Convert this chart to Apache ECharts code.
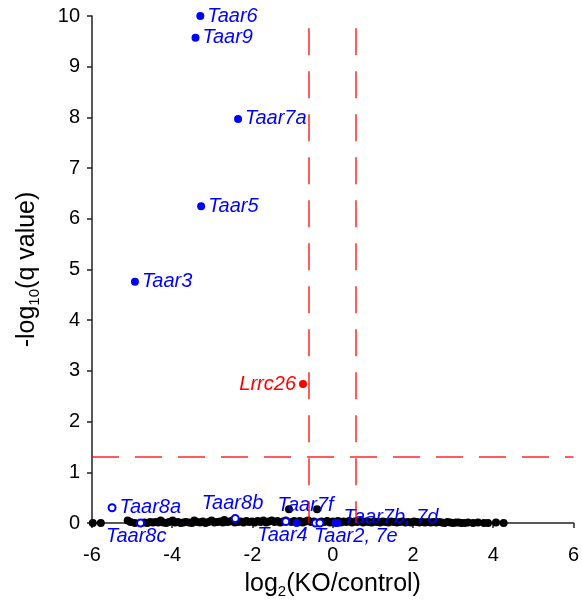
<!DOCTYPE html>
<html>
<head>
<meta charset="utf-8">
<script src="https://cdn.jsdelivr.net/npm/echarts@6/dist/echarts.min.js"></script>
<style>
  html, body { margin: 0; padding: 0; background: #fff; }
  #main { width: 582px; height: 604px; }
</style>
</head>
<body>
<div id="main"></div>
<script>
// background genes (black), log2 fold change and -log10 q
var blackX = [
  -5.98, -5.78, -5.11, -5.04, -4.93, -4.69, -4.62, -4.55, -4.48, -4.41,
  -4.35, -4.29, -4.22, -4.15, -4.08, -3.99, -3.93, -3.86, -3.79, -3.72,
  -3.66, -3.58, -3.51, -3.45, -3.38, -3.31, -3.24, -3.17, -3.10, -3.02,
  -2.95, -2.88, -2.81, -2.74, -2.70, -2.63, -2.57, -2.50, -2.44, -2.36,
  -2.29, -2.22, -2.15, -2.08, -2.01, -1.94, -1.87, -1.80, -1.73, -1.66,
  -1.59, -1.52, -1.45, -1.38, -1.31, -1.24, -1.17, -1.09, -1.03, -0.96,
  -0.89, -0.82, -0.75, -0.68, -0.61, -0.54, -0.47, -0.39, -0.35, -0.28,
  -0.21, -0.14, -0.07, 0.00, 0.06, 0.13, 0.20, 0.27, 0.34, 0.41,
  0.48, 0.55, 0.62, 0.69, 0.76, 0.83, 0.90, 0.97, 1.04, 1.11,
  1.18, 1.25, 1.32, 1.39, 1.46, 1.53, 1.60, 1.67, 1.74, 1.81,
  1.88, 1.95, 2.02, 2.09, 2.16, 2.23, 2.30, 2.37, 2.44, 2.51,
  2.58, 2.65, 2.72, 2.79, 2.86, 2.93, 3.00, 3.07, 3.14, 3.21,
  3.29, 3.37, 3.50, 3.62, 3.77, 3.87, 4.07, 4.26
];
var blackY = [
  0, 0, 0.05, 0.02, 0, 0.01, 0, 0.02, 0.01, 0.02,
  0.01, 0.05, 0.01, 0, 0.02, 0.05, 0.01, 0.02, 0, 0.01,
  0.02, 0.01, 0, 0.05, 0.02, 0.01, 0.03, 0, 0.02, 0.05,
  0.01, 0.02, 0.03, 0.01, 0.06, 0.02, 0.03, 0.05, 0.01, 0.02,
  0.03, 0.01, 0.04, 0.02, 0.03, 0.01, 0.04, 0.02, 0.05, 0.01,
  0.03, 0.05, 0.02, 0.04, 0.01, 0.03, 0.05, 0.27, 0.02, 0.04,
  0.02, 0.04, 0.01, 0.03, 0.05, 0.02, 0.03, 0.27, 0.01, 0.03,
  0.02, 0.04, 0.01, 0.03, 0.02, 0.04, 0.01, 0.03, 0.02, 0.04,
  0.01, 0.03, 0.02, 0.04, 0.01, 0.03, 0.02, 0.01, 0.03, 0.02,
  0.01, 0.03, 0.02, 0.01, 0.03, 0.02, 0.01, 0.02, 0.03, 0.01,
  0.02, 0.01, 0.03, 0.02, 0.01, 0.02, 0.01, 0.02, 0.01, 0.02,
  0.01, 0.02, 0.01, 0, 0.02, 0.01, 0, 0.01, 0.01, 0,
  0, 0.01, 0, 0.01, 0, 0, 0.01, 0
];

// Taar genes (blue)
var geneNames  = ['Taar6', 'Taar9', 'Taar7a', 'Taar5', 'Taar3', 'Taar8a', 'Taar8c', 'Taar8b',
                  'Taar4', 'Taar7f', 'Taar2', 'Taar7e', 'Taar7b', 'Taar7d'];
var geneLabels = ['Taar6', 'Taar9', 'Taar7a', 'Taar5', 'Taar3', 'Taar8a', 'Taar8c', 'Taar8b',
                  'Taar4', 'Taar7f', 'Taar2, 7e', '', 'Taar7b, 7d', ''];
var geneX = [-3.30, -3.42, -2.36, -3.28, -4.93, -5.50, -4.79, -2.43, -1.17, -0.90, -0.43, -0.32, 0.07, 0.11];
var geneY = [10.0, 9.57, 7.97, 6.25, 4.76, 0.30, 0.0, 0.09, 0.03, 0.0, 0.0, 0.0, 0.0, 0.0];
var geneFilled = [true, true, true, true, true, false, false, false, false, true, false, false, true, true];

// other significant gene (red)
var redNames = ['Lrrc26'];
var redX = [-0.74];
var redY = [2.74];

// thresholds
var foldCut = [-0.585, 0.585];
var qCut = 1.3;
var cutTop = 9.76;

var xTicks = { min: -6, max: 6, interval: 2 };
var yTicks = { min: 0, max: 10, interval: 1 };

var myChart = echarts.init(document.getElementById('main'));

var blue = '#0000ff';
var red = '#ff0000';
var font = "'Liberation Sans', Arial, Helvetica, sans-serif";

// label placement for the crowded genes near the axis
var labelOffset = {
    'Taar8c': [-42, 13],
    'Taar8b': [-41, -15],
    'Taar4': [-36, 14],
    'Taar7f': [-26, -18],
    'Taar2': [-9, 13],
    'Taar7b': [1, -6]
};

var blackData = [];
for (var i = 0; i < blackX.length; i++) {
    blackData.push([blackX[i], blackY[i]]);
}

var geneData = [];
for (var i = 0; i < geneNames.length; i++) {
    var item = {
        name: geneNames[i],
        value: [geneX[i], geneY[i]],
        symbolSize: geneFilled[i] ? 8 : 7,
        itemStyle: geneFilled[i]
            ? { color: blue, opacity: 1 }
            : { color: '#fff', borderColor: blue, borderWidth: 2, opacity: 1 },
        label: {
            show: geneLabels[i] !== '',
            formatter: geneLabels[i],
            position: 'right',
            distance: 3,
            offset: labelOffset[geneNames[i]] || [0, 0]
        }
    };
    geneData.push(item);
}

var redData = [];
for (var i = 0; i < redNames.length; i++) {
    redData.push({ name: redNames[i], value: [redX[i], redY[i]] });
}

var dashStyle = { color: red, width: 1.5, type: [27, 16], opacity: 0.85 };

var option = {
    animation: false,
    grid: { left: 92, right: 6, top: 16, bottom: 80 },
    xAxis: {
        type: 'value',
        min: xTicks.min,
        max: xTicks.max,
        interval: xTicks.interval,
        name: '{m|log}{s|2}{m|(KO/control)}',
        nameLocation: 'middle',
        nameGap: 46,
        nameTextStyle: {
            rich: {
                m: { fontSize: 25, fontFamily: font, color: '#000', lineHeight: 30, verticalAlign: 'middle' },
                s: { fontSize: 15, fontFamily: font, color: '#000', lineHeight: 15, verticalAlign: 'bottom' }
            }
        },
        axisLine: { onZero: false, lineStyle: { color: '#222', width: 1.5 } },
        axisTick: { length: 5, lineStyle: { color: '#222', width: 1.5 } },
        axisLabel: { fontSize: 20, fontFamily: font, color: '#000', margin: 22 },
        splitLine: { show: false }
    },
    yAxis: {
        type: 'value',
        min: yTicks.min,
        max: yTicks.max,
        interval: yTicks.interval,
        name: '{m|-log}{s|10}{m|(q value)}',
        nameLocation: 'middle',
        nameGap: 50,
        nameTextStyle: {
            rich: {
                m: { fontSize: 25, fontFamily: font, color: '#000', lineHeight: 30, verticalAlign: 'middle' },
                s: { fontSize: 15, fontFamily: font, color: '#000', lineHeight: 15, verticalAlign: 'bottom' }
            }
        },
        axisLine: { show: true, onZero: false, lineStyle: { color: '#222', width: 1.5 } },
        axisTick: { show: true, length: 5, lineStyle: { color: '#222', width: 1.5 } },
        axisLabel: { fontSize: 20, fontFamily: font, color: '#000', margin: 12 },
        splitLine: { show: false }
    },
    series: [
        {
            type: 'scatter',
            data: blackData,
            symbolSize: 8,
            itemStyle: { color: '#000', opacity: 1 },
            silent: true,
            markLine: {
                silent: true,
                symbol: 'none',
                label: { show: false },
                lineStyle: dashStyle,
                data: [
                    [{ coord: [foldCut[0], cutTop] }, { coord: [foldCut[0], 0] }],
                    [{ coord: [foldCut[1], cutTop] }, { coord: [foldCut[1], 0] }],
                    [{ coord: [xTicks.min, qCut] }, { coord: [xTicks.max, qCut] }]
                ]
            }
        },
        {
            type: 'scatter',
            data: geneData,
            silent: true,
            label: {
                color: blue,
                fontSize: 20,
                fontStyle: 'italic',
                fontFamily: font
            }
        },
        {
            type: 'scatter',
            data: redData,
            symbolSize: 8,
            itemStyle: { color: red, opacity: 1 },
            silent: true,
            label: {
                show: true,
                formatter: '{b}',
                position: 'left',
                distance: 3,
                color: red,
                fontSize: 20,
                fontStyle: 'italic',
                fontFamily: font
            }
        }
    ]
};

myChart.setOption(option);
</script>
</body>
</html>
